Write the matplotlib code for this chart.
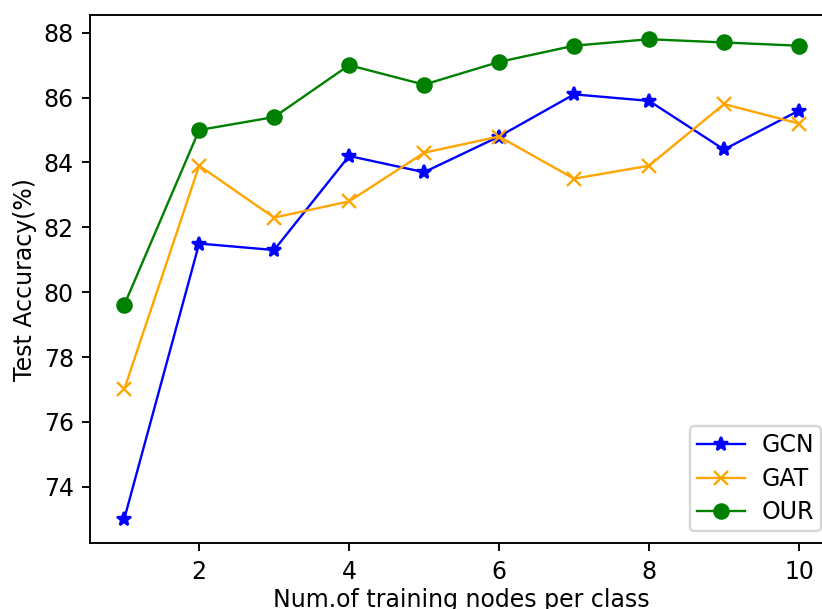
import matplotlib
matplotlib.use("Agg")
import matplotlib.pyplot as plt

# training nodes per class
nodes = [1, 2, 3, 4, 5, 6, 7, 8, 9, 10]
gcn = [73.0, 81.5, 81.3, 84.2, 83.7, 84.8, 86.1, 85.9, 84.4, 85.6]
gat = [77.0, 83.9, 82.3, 82.8, 84.3, 84.8, 83.5, 83.9, 85.8, 85.2]
our = [79.6, 85.0, 85.4, 87.0, 86.4, 87.1, 87.6, 87.8, 87.7, 87.6]

DPI = 170
fig = plt.figure(figsize=(822 / DPI, 609 / DPI), dpi=DPI)
# axes run a bit past the right edge, like the cropped original
ax = fig.add_axes([0.110, 0.108, 0.903, 0.867])

ax.plot(nodes, gcn, "b*-", lw=1, label="GCN")
ax.plot(nodes, gat, "x-", color="orange", lw=1, label="GAT")
ax.plot(nodes, our, "go-", lw=1, label="OUR")

ax.set_xlabel("Num.of training nodes per class", labelpad=2)
ax.set_ylabel("Test Accuracy(%)")
ax.yaxis.set_label_coords(-0.072, 0.5)
ax.legend(loc="lower right", labelspacing=0.4, borderpad=0.3,
          handletextpad=0.7)

fig.savefig("out.png", dpi=DPI)
